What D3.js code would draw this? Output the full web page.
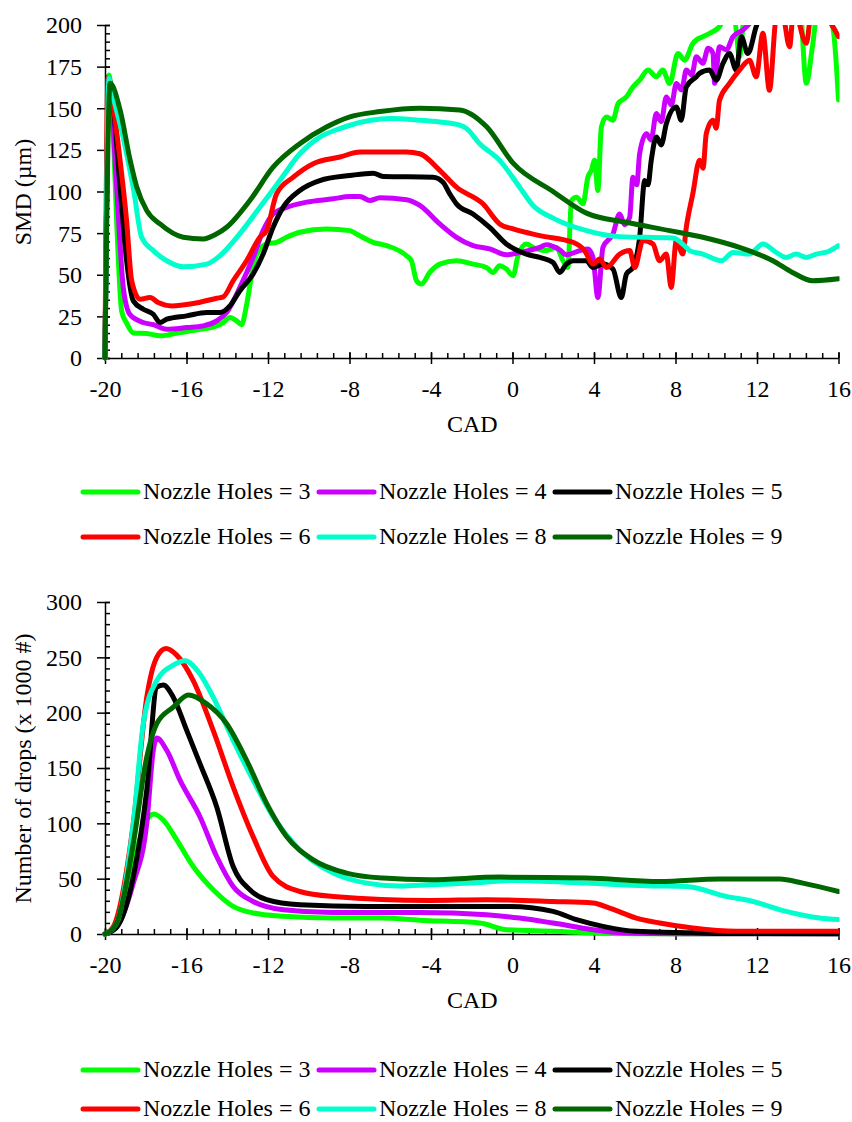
<!DOCTYPE html>
<html>
<head>
<meta charset="utf-8">
<script src="https://cdn.jsdelivr.net/npm/d3@7"></script>
<style>
  body { margin: 0; background: #fff; }
  text { font-family: 'Liberation Serif', serif; fill: #000; }
</style>
</head>
<body>
<script>
// series names and colours
const holes = [3, 4, 5, 6, 8, 9];
const colors = ['#00ff00', '#cc00ff', '#000000', '#ff0000', '#00ffcc', '#006600'];

// axis ticks
const cadTicks = [-20, -16, -12, -8, -4, 0, 4, 8, 12, 16];
const smdTicks = [0, 25, 50, 75, 100, 125, 150, 175, 200];
const dropTicks = [0, 50, 100, 150, 200, 250, 300];

// SMD (µm) vs CAD
const smd3 = [[-20,0],[-19.8,170],[-19.59,133],[-19.43,83],[-19.18,28],[-18.94,21],[-18.61,15],[-17.95,14.7],[-17.3,13.3],[-16.32,15.3],[-15.34,17.3],[-14.52,19.3],[-14.2,21.3],[-13.87,24.3],[-13.54,22.3],[-13.3,20],[-13.05,32],[-12.8,50],[-12.56,62],[-12.07,68.5],[-11.58,69.5],[-11.09,72.5],[-10.44,75.5],[-9.13,77.5],[-7.98,76.5],[-7.66,74.5],[-6.84,69.5],[-6.18,67.5],[-5.2,61.4],[-4.96,58.4],[-4.71,46.4],[-4.47,44.4],[-4.06,51.4],[-3.57,56.4],[-2.75,58.4],[-1.94,56.4],[-1.28,54.4],[-0.96,51.4],[-0.63,55.4],[-0.3,53.4],[0.03,49.4],[0.27,61.4],[0.68,68.5],[1.01,66.4],[1.66,64.5],[2.15,66.4],[2.48,58.4],[2.72,54.4],[2.89,94.6],[3.14,96.6],[3.46,92.6],[3.7,108.6],[3.87,112.7],[4.03,118.7],[4.19,100.6],[4.36,138.7],[4.61,144.8],[4.93,142.8],[5.18,152.8],[5.59,156.8],[5.91,162.8],[6.24,166.9],[6.65,172.9],[7.06,168.9],[7.38,172.9],[7.71,164.9],[8.12,182.9],[8.45,178.9],[8.85,188.9],[9.02,191],[9.34,193],[9.67,195],[10.16,199],[10.5,206],[10.9,203],[11.14,181],[11.4,208],[12,212],[13,210],[13.6,205],[14.1,210],[14.42,165],[14.72,187],[15.0,210],[15.71,199],[16,155]];
const smd4 = [[-20,0],[-19.8,168],[-19.43,103],[-19.1,42],[-18.77,26],[-18.12,21.3],[-17.63,20],[-16.97,17.3],[-15.99,18.3],[-15.18,19.3],[-14.52,22.3],[-14.03,27.3],[-13.38,42.4],[-12.73,60.4],[-12.24,76.5],[-11.75,86.5],[-11.09,90.5],[-10.11,93.6],[-8.8,95.6],[-7.98,97],[-7.49,97],[-7.0,94.6],[-6.51,96.2],[-5.2,95],[-4.55,91.6],[-3.57,80.5],[-2.75,72.5],[-1.94,67.5],[-1.12,65.5],[-0.3,62],[0.35,63.4],[1.34,66.4],[1.66,68],[2.32,64.9],[2.64,62],[3.3,64.5],[3.7,65.5],[3.95,60.4],[4.19,36.3],[4.44,66.4],[4.93,74.5],[5.26,86.5],[5.5,80],[5.75,84.5],[5.91,108.6],[6.1,104],[6.24,122.7],[6.57,134.7],[6.8,131],[7.06,146.8],[7.3,142],[7.55,156.8],[7.8,152],[8.04,164.9],[8.3,161],[8.53,172.9],[8.8,170],[9.02,181],[9.34,177],[9.6,186],[9.84,183],[9.92,165],[10.16,187],[10.5,185],[10.82,193],[11.31,197],[11.8,203],[12.3,210],[16,210]];
const smd5 = [[-20,0],[-19.8,167],[-19.26,103],[-18.94,58.4],[-18.61,34.3],[-18.12,29.3],[-17.63,26.3],[-17.3,21.3],[-16.97,23.3],[-15.99,25.3],[-15.01,27.3],[-14.36,27.3],[-13.87,31.3],[-13.38,40.4],[-12.73,50.4],[-12.24,62.4],[-11.75,78.5],[-11.26,90.5],[-10.44,100.6],[-9.46,106.6],[-7.98,109.6],[-6.84,111],[-6.35,109],[-3.9,108.6],[-3.41,105.6],[-3.08,98.6],[-2.75,92.6],[-1.94,86.5],[-1.12,78.5],[-0.3,68.5],[0.68,62.4],[1.34,60.4],[1.99,57.4],[2.32,51.4],[2.64,56.4],[2.97,58.4],[3.63,58.4],[3.95,54.4],[4.44,56.4],[4.93,53.4],[5.34,36.3],[5.59,50.4],[5.91,54.4],[6.24,72.5],[6.49,106.6],[6.65,104],[6.81,118.7],[7.06,132.7],[7.3,128],[7.55,140.7],[8.04,150.8],[8.28,142.8],[8.53,162.8],[9.02,168.9],[9.18,170.9],[9.67,172.9],[10.0,166.9],[10.33,176.9],[10.65,182.9],[10.98,172.9],[11.23,193],[11.55,182.9],[11.96,199],[12.3,210],[16,210]];
const smd6 = [[-20,0],[-19.85,168],[-19.75,163],[-19.26,118.7],[-18.94,82.5],[-18.69,46.4],[-18.28,35.3],[-17.79,36.3],[-17.39,33.3],[-16.73,31.3],[-15.67,32.7],[-14.52,35.9],[-14.2,36.7],[-13.71,46.4],[-13.05,58.4],[-12.4,72.5],[-12.07,76.5],[-11.58,98.6],[-10.76,108.6],[-9.78,116.7],[-8.47,120.7],[-7.49,123.7],[-5.2,123.7],[-4.55,122.7],[-3.57,112.7],[-2.75,102.6],[-1.45,92.6],[-0.63,80.5],[0.03,77.5],[1.34,73.5],[2.97,69.5],[3.54,64.5],[3.95,56.4],[4.28,59.5],[4.61,54.4],[5.26,62.4],[5.75,64.5],[6.0,54.4],[6.4,70.5],[6.89,68.5],[7.22,58.4],[7.55,62.4],[7.79,42.4],[8.04,70.5],[8.36,62.4],[8.53,78.5],[8.85,98.6],[9.18,118.7],[9.35,114],[9.51,134.7],[9.84,142.8],[10.0,138],[10.16,154.8],[10.65,164.9],[11.14,172.9],[11.63,178.9],[11.96,168.9],[12.29,195],[12.61,160.8],[12.94,205],[13.2,210],[13.6,187],[13.8,210],[14.42,189],[14.7,210],[15.4,205],[16,193]];
const smd8 = [[-20,0],[-19.8,168],[-19.75,165],[-19.1,132],[-18.61,102],[-18.2,72.5],[-17.63,64.5],[-16.97,58.4],[-16.17,54.8],[-15.01,56.4],[-14.36,61.4],[-13.38,74.7],[-12.4,90.5],[-11.42,106.6],[-10.44,122.7],[-9.46,132.7],[-8.47,137.8],[-7.98,139.8],[-6.02,143.8],[-4.55,142.8],[-3.57,141.7],[-2.59,139.8],[-2.26,137.8],[-1.61,128.7],[-0.63,118.7],[0.35,102.6],[1.01,91.6],[1.99,84],[3.63,76.5],[5.26,72.9],[7.87,72.1],[8.53,66.4],[8.69,64.5],[9.34,62.4],[10.25,58.4],[10.82,63.4],[11.63,62.4],[12.29,68.5],[12.94,63.4],[13.43,60.4],[13.92,62.4],[14.42,60.4],[14.91,62.4],[15.5,64],[16,67.5]];
const smd9 = [[-20,0],[-19.75,165],[-19.26,149],[-18.77,119],[-18.45,103],[-17.95,88.5],[-17.3,80.5],[-16.16,72.5],[-15.18,71.5],[-14.6,74],[-14.03,78.5],[-12.89,94.6],[-11.75,114.6],[-10.44,128.7],[-9.13,138.7],[-7.98,144.8],[-6.5,148],[-4.55,150],[-2.59,149],[-1.28,139],[0.03,117],[1.99,100],[3.63,87],[5.59,81.5],[7.71,76.5],[9.34,72.5],[11.14,66.4],[12.78,58.4],[13.74,51.4],[14.72,46.4],[16,47.6]];

// Number of drops (x 1000) vs CAD
const drops3 = [[-20,0],[-19.43,6.6],[-18.94,40],[-18.45,76],[-17.95,103],[-17.6,108.5],[-17.14,103],[-16.48,85],[-15.67,61],[-14.69,40],[-13.71,25],[-12.73,19],[-11.26,16],[-8.8,14.4],[-6.35,14.4],[-4.55,12.5],[-1.61,10],[-0.3,3.9],[1.99,2.4],[3.95,0.9],[6,0.3],[16,0.2]];
const drops4 = [[-20,0],[-19.43,6.6],[-18.61,46],[-17.95,100],[-17.63,166],[-17.46,177],[-16.97,166],[-16.32,139],[-15.34,106],[-14.52,70],[-13.71,43],[-12.73,29.4],[-11.26,22],[-8.8,19.5],[-4.55,19.5],[-1.28,17.4],[0.35,14.4],[1.99,9.9],[3.95,3.9],[5.59,0.9],[8,0.2],[16,0.2]];
const drops5 = [[-20,0],[-19.43,6],[-18.61,52],[-17.95,130],[-17.46,223],[-17.14,225],[-16.65,214],[-15.99,184],[-15.34,154],[-14.52,115],[-13.71,61],[-12.89,40],[-12.07,31],[-10.44,26.4],[-7.16,24.9],[-4.55,24.9],[-0.14,24.9],[1.99,20.4],[3.14,12.9],[4.44,6.9],[6.08,2.4],[8.2,1.4],[10,0.5],[16,0.3]];
const drops6 = [[-20,0],[-19.59,6.6],[-18.61,100],[-17.95,214],[-17.46,250],[-17.01,258],[-16.48,252],[-15.67,229],[-14.69,184],[-13.71,133],[-12.73,88],[-11.75,52],[-10.44,38.4],[-8.8,33.9],[-4.06,30.3],[-1.28,31],[1.99,29.4],[3.95,28],[4.77,23.4],[6.08,14.4],[7.22,9.9],[8.85,5.4],[10.98,2.4],[16,2.4]];
const drops8 = [[-20,0],[-19.43,9.9],[-18.61,100],[-18.12,190],[-17.46,229],[-16.65,243],[-16.08,247],[-15.34,235],[-14.69,214],[-13.71,175],[-12.73,139],[-11.75,106],[-10.44,76],[-8.8,55],[-7.16,46],[-5.53,43.3],[-4.06,44.5],[-2.1,46],[0.03,48.4],[3.63,46],[6.57,43.6],[8.53,43],[10.49,34],[11.8,29.4],[13.43,20.4],[15.07,14.4],[16,13]];
const drops9 = [[-20,0],[-19.43,9.9],[-18.61,82],[-17.95,160],[-17.46,190],[-16.65,205],[-15.91,216],[-15.01,208],[-14.03,190],[-13.05,157],[-12.07,118],[-11.09,88],[-9.78,67],[-8.15,55],[-6.35,50.5],[-4.06,49],[-0.63,51.4],[3.63,50.5],[7.22,47.4],[10.16,49.6],[13.11,49.6],[14.25,46],[16,38.4]];

const width = 852;
const height = 1122;

const svg = d3.select('body')
  .append('svg')
  .attr('width', width)
  .attr('height', height);

drawChart({
  id: 'smd',
  series: [smd3, smd4, smd5, smd6, smd8, smd9],
  yTicks: smdTicks,
  yMinor: 5,
  yMax: 200,
  top: 25,
  bottom: 358,
  yLabel: 'SMD (µm)'
});

drawChart({
  id: 'drops',
  series: [drops3, drops4, drops5, drops6, drops8, drops9],
  yTicks: dropTicks,
  yMinor: 10,
  yMax: 300,
  top: 602,
  bottom: 934,
  yLabel: 'Number of drops (x 1000 #)'
});

drawLegend(492, 537);
drawLegend(1070, 1109);

function drawChart(cfg) {
  const left = 105;
  const right = 838.5;

  const x = d3.scaleLinear().domain([-20, 16]).range([left, right]);
  const y = d3.scaleLinear().domain([0, cfg.yMax]).range([cfg.bottom, cfg.top]);

  // clip so that values above the axis maximum are cut off
  svg.append('clipPath')
    .attr('id', 'clip-' + cfg.id)
    .append('rect')
    .attr('x', left - 3)
    .attr('y', cfg.top)
    .attr('width', right - left + 4)
    .attr('height', cfg.bottom - cfg.top + 3);

  const line = d3.line()
    .x(d => x(d[0]))
    .y(d => y(d[1]))
    .curve(d3.curveMonotoneX);

  // minor ticks on x axis (every 0.8 CAD, pointing up)
  const xMinor = d3.range(0, 46).map(i => -20 + i * 0.8);
  svg.append('g')
    .attr('transform', `translate(0, ${cfg.bottom})`)
    .call(d3.axisTop(x).tickValues(xMinor).tickSize(5).tickSizeOuter(0).tickFormat(''))
    .call(g => g.select('.domain').remove())
    .selectAll('line').attr('stroke-width', 1.5);

  // minor ticks on y axis (pointing right)
  const yMinorVals = d3.range(0, cfg.yMax / cfg.yMinor + 1).map(i => i * cfg.yMinor);
  svg.append('g')
    .attr('transform', `translate(${left}, 0)`)
    .call(d3.axisRight(y).tickValues(yMinorVals).tickSize(5).tickSizeOuter(0).tickFormat(''))
    .call(g => g.select('.domain').remove())
    .selectAll('line').attr('stroke-width', 1.5);

  // x axis with major ticks crossing the line
  const xAxis = svg.append('g')
    .attr('transform', `translate(0, ${cfg.bottom})`)
    .call(d3.axisBottom(x).tickValues(cadTicks).tickFormat(d => String(d)).tickSizeOuter(0).tickPadding(0));
  xAxis.select('.domain').attr('stroke-width', 1.5);
  xAxis.selectAll('.tick line').attr('y1', -6).attr('y2', 6).attr('stroke-width', 1.5);
  xAxis.selectAll('.tick text')
    .attr('y', 39)
    .attr('dy', 0)
    .style('font-size', '24px')
    .style('font-family', "'Liberation Serif', serif");

  // y axis
  const yAxis = svg.append('g')
    .attr('transform', `translate(${left}, 0)`)
    .call(d3.axisLeft(y).tickValues(cfg.yTicks).tickSizeOuter(0));
  yAxis.select('.domain').attr('stroke-width', 1.5);
  yAxis.selectAll('.tick line').attr('x1', -8).attr('x2', 5).attr('stroke-width', 1.5);
  yAxis.selectAll('.tick text')
    .attr('x', -23)
    .attr('dy', '0.33em')
    .style('font-size', '24px')
    .style('font-family', "'Liberation Serif', serif");

  // data lines
  svg.append('g')
    .attr('clip-path', `url(#clip-${cfg.id})`)
    .selectAll('path')
    .data(cfg.series)
    .join('path')
    .attr('d', line)
    .attr('fill', 'none')
    .attr('stroke', (d, i) => colors[i])
    .attr('stroke-width', 5)
    .attr('stroke-linejoin', 'round')
    .attr('stroke-linecap', 'round');

  // axis titles
  svg.append('text')
    .attr('x', (left + right) / 2 + 0.5)
    .attr('y', cfg.bottom + 74)
    .attr('text-anchor', 'middle')
    .style('font-size', '24px')
    .text('CAD');

  svg.append('text')
    .attr('transform', `translate(31, ${(cfg.top + cfg.bottom) / 2 + 0.5}) rotate(-90)`)
    .attr('text-anchor', 'middle')
    .style('font-size', '24px')
    .text(cfg.yLabel);
}

function drawLegend(row1, row2) {
  const g = svg.append('g');
  holes.forEach((h, i) => {
    const col = i % 3;
    const yy = i < 3 ? row1 : row2;
    const x0 = 83 + col * 236;
    g.append('line')
      .attr('x1', x0).attr('x2', x0 + 55)
      .attr('y1', yy).attr('y2', yy)
      .attr('stroke', colors[i])
      .attr('stroke-width', 5)
      .attr('stroke-linecap', 'round');
    g.append('text')
      .attr('x', x0 + 60)
      .attr('y', yy + 7)
      .style('font-size', '24px')
      .text('Nozzle Holes = ' + h);
  });
}
</script>
</body>
</html>
